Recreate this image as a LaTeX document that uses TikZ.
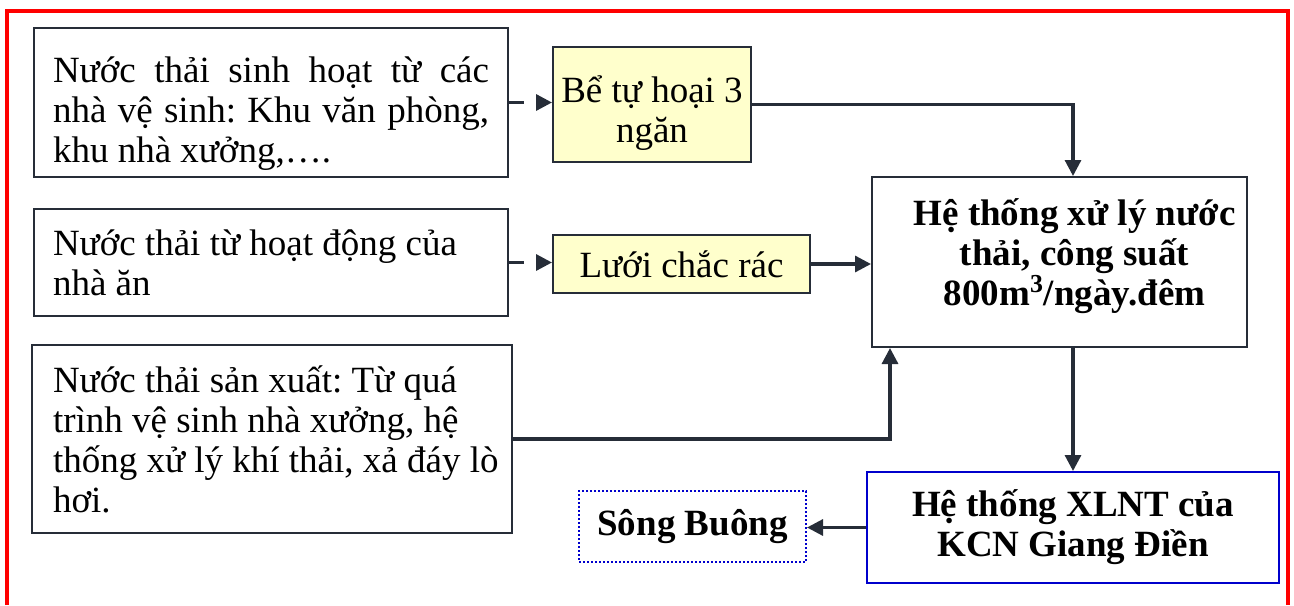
\documentclass[tikz,border=0pt]{standalone}
\usepackage{fontspec}
\setmainfont{Liberation Serif}
\usepackage{xcolor}
\usetikzlibrary{arrows.meta,calc,positioning}
\definecolor{inkgrey}{RGB}{38,45,56}
\definecolor{padyellow}{RGB}{255,255,204}
\definecolor{lineblue}{RGB}{0,0,204}
\definecolor{framered}{RGB}{255,0,0}
\newcommand{\diagfont}{\fontsize{18.5}{20}\selectfont}
\newcommand{\boldfont}{\fontsize{18.5}{20}\selectfont\bfseries}
\frenchspacing

\begin{document}
\begin{tikzpicture}[
    x=0.5pt, y=-0.5pt,
    font=\diagfont,
    box/.style={draw=inkgrey, line width=1pt, rectangle, inner sep=0, align=center},
    srcbox/.style={box, inner xsep=9.5pt, text width=#1, align=left,
        execute at begin node={\spaceskip=0pt\xspaceskip=0pt}},
    tankbox/.style={box, fill=padyellow},
    boldbox/.style={box, font=\boldfont},
    flow/.style={draw=inkgrey, line width=1.6pt, -{Triangle[length=8pt,width=8pt]}},
    dashflow/.style={flow, dash pattern=on 7.5pt off 6.5pt}]
\useasboundingbox (0,0) rectangle (1294,605);

% outer frame, open at the bottom
\draw[framered, line width=1.6pt] (7,605) -- (7,11) -- (1288,11) -- (1288,605);

% sources
\node[srcbox=218pt, minimum width=237pt, minimum height=74.5pt] (src1) at (271,102.5)
    {\rule{0pt}{24pt}\makebox[218pt][s]{Nước thải sinh hoạt từ các}\\ \makebox[218pt][s]{nhà vệ sinh: Khu văn phòng,}\\ khu nhà xưởng,….};
\node[srcbox=218pt, minimum width=237pt, minimum height=53.5pt] (src2) at (271,262.5)
    {Nước thải từ hoạt động của\\ nhà ăn};
\node[srcbox=219pt, inner xsep=10.5pt, minimum width=240pt, minimum height=94pt] (src3) at (272,439)
    {Nước thải sản xuất: Từ quá\\ trình vệ sinh nhà xưởng, hệ\\ \mbox{thống xử lý khí thải, xả đáy lò}\\ hơi.};

% pre-treatment
\node[tankbox, minimum width=99pt, minimum height=57.5pt] (bath) at (652,104.5) {\rule{0pt}{22pt}Bể tự hoại 3\\ ngăn};
\node[tankbox, minimum width=128.5pt, minimum height=29pt] (screen) at (681.5,264) {Lưới chắc rác};

% treatment and discharge
\node[boldbox, minimum width=187.5pt, minimum height=85pt] (hub) at (1059.5,262) {};
\node[font=\boldfont, align=center, inner sep=0] (hubtext) at ([xshift=7.5pt,yshift=3pt]hub.center)
    {Hệ thống xử lý nước\\ thải, công suất\\ 800m\textsuperscript{3}/ngày.đêm};
\node[boldbox, draw=lineblue, minimum width=206pt, minimum height=55.5pt] (xlnt) at (1073,527.5)
    {Hệ thống XLNT của\\ KCN Giang Điền};
\node[boldbox, draw=lineblue, densely dotted, minimum width=113.5pt, minimum height=35.5pt] (river) at (692.5,526.5)
    {Sông Buông};

% connectors
\draw[dashflow] (src1.east) -- (src1.east -| bath.west);
\draw[dashflow] (src2.east) -- (src2.east -| screen.west);
\draw[flow] (bath.east) -| (hub.north -| xlnt.north);
\draw[flow] (screen.east) -- (screen.east -| hub.west);
\draw[flow] (src3.east) -| ([xshift=9.5pt]hub.south west);
\draw[flow] (hub.south -| xlnt.north) -- (xlnt.north);
\draw[flow] (xlnt.west) -- (xlnt.west -| river.east);

\end{tikzpicture}
\end{document}
